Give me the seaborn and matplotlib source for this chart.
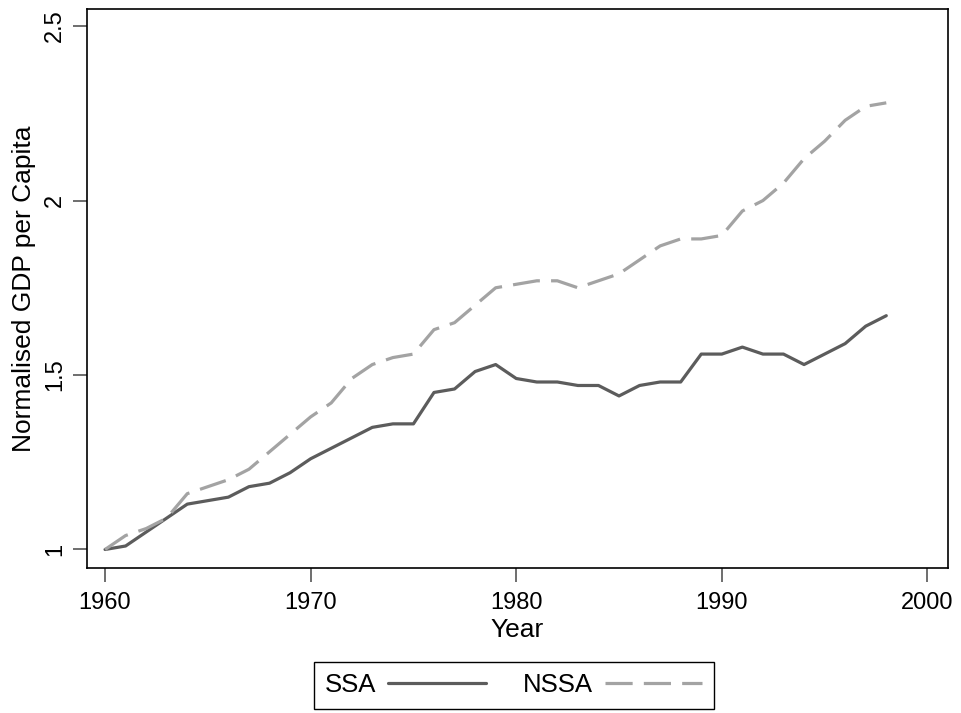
import pandas as pd
import seaborn as sns
import matplotlib.pyplot as plt

years = list(range(1960, 1999))
ssa = [1.00, 1.01, 1.05, 1.09, 1.13, 1.14, 1.15, 1.18, 1.19, 1.22,
       1.26, 1.29, 1.32, 1.35, 1.36, 1.36, 1.45, 1.46, 1.51, 1.53,
       1.49, 1.48, 1.48, 1.47, 1.47, 1.44, 1.47, 1.48, 1.48, 1.56,
       1.56, 1.58, 1.56, 1.56, 1.53, 1.56, 1.59, 1.64, 1.67]
nssa = [1.00, 1.04, 1.06, 1.09, 1.16, 1.18, 1.20, 1.23, 1.28, 1.33,
        1.38, 1.42, 1.49, 1.53, 1.55, 1.56, 1.63, 1.65, 1.70, 1.75,
        1.76, 1.77, 1.77, 1.75, 1.77, 1.79, 1.83, 1.87, 1.89, 1.89,
        1.90, 1.97, 2.00, 2.05, 2.12, 2.17, 2.23, 2.27, 2.28]

df = pd.DataFrame({"Year": years, "SSA": ssa, "NSSA": nssa})

sns.set_style("white", {"text.color": "black", "axes.labelcolor": "black",
                        "xtick.color": "black", "ytick.color": "black"})
plt.rcParams["font.family"] = ["Liberation Sans", "DejaVu Sans"]

fig = plt.figure(figsize=(9.62, 7.13), dpi=100)
ax = fig.add_axes([0.0904, 0.2034, 0.895, 0.784])

sns.lineplot(data=df, x="Year", y="SSA", ax=ax, color="#5c5c5c", lw=2.3, label="SSA")
sns.lineplot(data=df, x="Year", y="NSSA", ax=ax, color="#a3a3a3", lw=2.3, label="NSSA")
ax.lines[1].set_dashes([8.5, 3.5])

ax.set_xlim(1959.12, 2001.0)
ax.set_ylim(0.947, 2.549)
ax.set_xticks([1960, 1970, 1980, 1990, 2000])
ax.set_yticks([1, 1.5, 2, 2.5])
ax.set_yticklabels(["1", "1.5", "2", "2.5"], rotation=90, va="center")
ax.tick_params(axis="both", direction="out", length=10, width=1.2, color="#555555",
               labelsize=17, labelcolor="black", left=True, bottom=True)
ax.tick_params(axis="x", pad=7)
ax.tick_params(axis="y", pad=5)

for s in ax.spines.values():
    s.set_color("black")
    s.set_linewidth(1.2)

ax.set_xlabel("Year", fontsize=19, labelpad=3)
ax.set_ylabel("Normalised GDP per Capita", fontsize=19, labelpad=6)

ax.get_legend().remove()
h, l = ax.get_legend_handles_labels()
leg = fig.legend(h, l, loc="center", bbox_to_anchor=(0.534, 0.039), ncol=2,
                 fontsize=18.5, markerfirst=False, handlelength=3.8, handletextpad=0.45,
                 columnspacing=1.45, fancybox=False, edgecolor="black",
                 borderpad=0.45, framealpha=1)
leg.get_frame().set_linewidth(1.0)

fig.savefig("out.png", dpi=100)
